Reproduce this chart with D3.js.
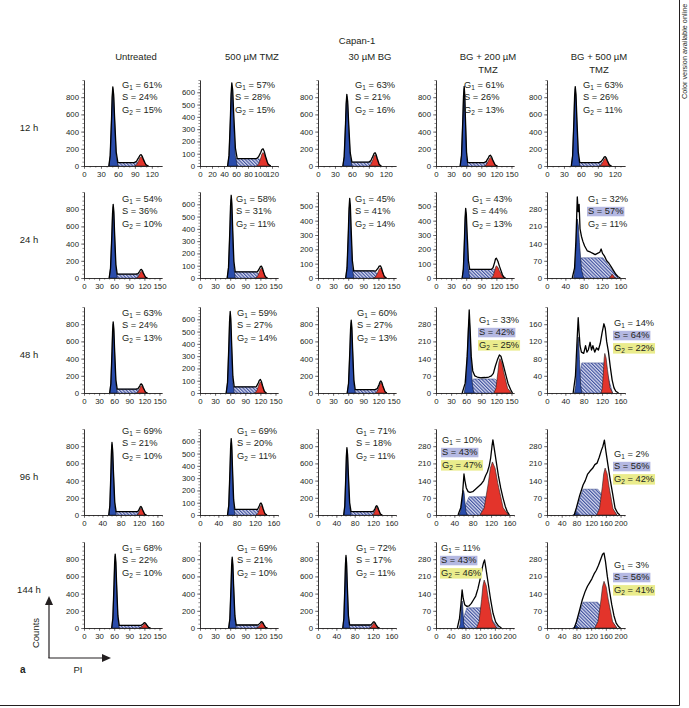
<!DOCTYPE html>
<html><head><meta charset="utf-8">
<script src="https://cdn.jsdelivr.net/npm/d3@7"></script>
<style>body{margin:0;background:#fff}svg{display:block}text{font-family:"Liberation Sans",Arial,sans-serif;fill:#231f20}</style>
</head><body><svg id="c" width="689" height="708"></svg>
<script>
// ---------------- DATA ----------------
const title = "Capan-1";
const rowLabels = ["12 h","24 h","48 h","96 h","144 h"];
const colHeaders = [["Untreated"],["500 µM TMZ"],["30 µM BG"],["BG + 200 µM","TMZ"],["BG + 500 µM","TMZ"]];
const g1Pct = [[61,57,63,61,63],[54,58,45,43,32],[63,59,60,33,14],[69,69,71,10,2],[68,69,72,11,3]];
const sPct  = [[24,28,21,26,26],[36,31,41,44,57],[24,27,27,42,64],[21,20,18,43,56],[22,21,17,43,56]];
const g2Pct = [[15,15,16,13,11],[10,11,14,13,11],[13,14,13,25,22],[10,11,11,47,42],[10,10,11,46,41]];
const highlightS  = [[0,0,0,0,0],[0,0,0,0,1],[0,0,0,1,1],[0,0,0,1,1],[0,0,0,1,1]];
const highlightG2 = [[0,0,0,0,0],[0,0,0,0,0],[0,0,0,1,1],[0,0,0,1,1],[0,0,0,1,1]];
// x axis type per panel: A 0-120 step 30, B 0-120 step 20, C 0-150 step 30, D 0-160 step 40, E 0-200 step 40
const xAxisType = [["A","B","A","C","A"],["C","C","C","C","D"],["C","C","C","C","D"],["D","D","D","D","E"],["C","C","D","E","E"]];
const xTickLabels = {A:[0,30,60,90,120], B:[0,20,40,60,80,100,120], C:[0,30,60,90,120,150], D:[0,40,80,120,160], E:[0,40,80,120,160,200]};
const xMaxByType = {A:138, B:130, C:155, D:170, E:212};
// y axis maximum tick label per panel
const yTopTick = [[800,600,800,800,800],[800,600,500,500,280],[800,600,800,280,160],[800,600,800,280,280],[800,800,800,280,280]];
const yStepByTop = {800:200, 600:100, 500:100, 280:70, 160:40};
const yMaxByTop = {800:1000, 600:700, 500:600, 280:350, 160:200};
// fitted G1 peak: [start, mode, end, height] (PI units, counts)
const g1Peaks = [
 [[44,51,60,900],[46,53,62,640],[44,51,60,810],[48,56,63,900],[43,50,58,900]],
 [[50,58,66,830],[54,62,70,640],[55,63,71,520],[52,59,67,460],[58,66,80,240]],
 [[51,58,66,800],[52,60,68,630],[58,66,74,820],[56,66,75,300],[60,68,76,130]],
 [[54,61,70,820],[60,68,76,590],[56,63,72,760],[50,60,68,100],[70,80,88,10]],
 [[55,62,70,840],[57,64,72,800],[54,61,69,820],[63,71,78,110],[70,80,88,10]]];
// fitted S phase: [x0, x1, x2, x3, height]
const sPhases = [
 [[49,53,95,108,40],[50,55,98,112,60],[49,53,95,108,45],[52,58,102,118,40],[47,52,95,110,40]],
 [[55,60,105,122,45],[58,64,110,128,50],[58,65,110,130,50],[56,63,118,135,60],[60,75,122,155,82]],
 [[55,60,105,122,45],[56,62,108,128,50],[62,68,115,134,40],[62,74,117,147,57],[64,76,124,143,70]],
 [[57,64,115,132,40],[63,70,122,140,45],[59,66,118,136,40],[56,72,118,158,74],[74,98,138,190,105]],
 [[58,64,110,128,30],[60,66,112,130,35],[57,63,112,132,35],[66,84,125,170,82],[74,98,138,190,105]]];
// fitted G2 peak: [start, mode, end, height]
const g2Peaks = [
 [[89,101,114,110],[94,105,118,110],[90,101,112,130],[96,108,122,100],[92,103,114,90]],
 [[104,114,126,80],[110,122,134,80],[110,124,136,70],[110,120,138,85],[135,142,150,15]],
 [[104,114,126,85],[108,120,132,90],[114,125,137,120],[115,127,150,140],[118,126,143,92]],
 [[115,124,136,80],[122,133,146,80],[118,128,140,90],[96,123,158,216],[135,158,190,191]],
 [[110,121,132,50],[112,123,134,60],[112,122,134,55],[110,131,165,195],[130,155,190,190]]];
const histR2C5 = [[55,0],[60,40],[63,150],[66,330],[68,270],[70,300],[72,200],[75,170],[78,150],[82,130],[88,110],[95,105],[100,100],[105,95],[110,100],[115,105],[118,118],[121,100],[125,90],[130,70],[135,60],[140,45],[145,30],[150,15],[155,5],[160,0]];
const histR3C4 = [[52,0],[58,40],[62,150],[66,338],[68,250],[70,150],[73,90],[77,70],[82,65],[90,62],[98,63],[105,65],[110,70],[114,80],[118,110],[122,135],[126,155],[129,150],[133,120],[138,80],[143,40],[148,15],[152,0]];
const histR3C5 = [[57,0],[62,40],[65,110],[68,175],[70,140],[72,110],[75,95],[80,92],[84,110],[87,95],[90,100],[94,118],[97,100],[100,110],[104,95],[108,105],[112,100],[116,115],[120,140],[124,161],[127,150],[130,120],[134,95],[138,60],[142,30],[146,12],[150,4],[156,0]];
const histR4C4 = [[48,0],[54,30],[58,90],[61,167],[63,140],[66,110],[70,95],[74,92],[80,95],[86,105],[92,115],[98,125],[104,140],[108,160],[112,175],[116,200],[119,230],[122,280],[124,306],[127,270],[131,220],[136,160],[141,110],[146,70],[151,35],[155,15],[160,0]];
const histR4C5 = [[74,0],[80,30],[88,75],[98,122],[104,140],[110,165],[117,179],[124,190],[130,205],[136,211],[142,235],[148,264],[152,280],[156,305],[160,260],[166,200],[172,142],[178,90],[185,28],[192,8],[198,0]];
const histR5C4 = [[58,0],[64,40],[68,100],[71,155],[74,120],[78,95],[84,88],[90,90],[96,100],[102,115],[108,130],[114,160],[120,200],[125,240],[129,265],[132,277],[136,240],[142,180],[148,120],[155,60],[162,25],[170,8],[178,0]];
const histR5C5 = [[74,0],[80,25],[88,70],[96,115],[104,150],[110,170],[116,185],[122,200],[128,220],[134,235],[140,255],[146,280],[151,300],[155,305],[159,270],[164,210],[170,150],[176,95],[182,50],[188,20],[195,5],[200,0]];
const measured = {"1,4":histR2C5,"2,3":histR3C4,"2,4":histR3C5,"3,3":histR4C4,"3,4":histR4C5,"4,3":histR5C4,"4,4":histR5C5};

// ---------------- LAYOUT ----------------
const colX = [84, 200, 318, 436, 547];
const rowBase = [166, 278, 393, 515, 628];
const PW = 78, PH = 86;
const annotX = [[122,235,355,464,583],[122,236,355,472,588],[122,237,357,479,614],[122,237,356,442,614],[122,237,356,441,614]];
const annotUp = [[78,78,78,78,78],[76,76,76,76,76],[77,77,77,70,67],[81,81,81,72,58],[77,77,77,77,60]];

const svg = d3.select("#c");
const defs = svg.append("defs");
const pat = defs.append("pattern").attr("id","hatch").attr("patternUnits","userSpaceOnUse")
  .attr("width",2.4).attr("height",2.4).attr("patternTransform","rotate(-45)");
pat.append("rect").attr("width",2.4).attr("height",2.4).attr("fill","#d9dcf0");
pat.append("line").attr("x1",0.6).attr("y1",0).attr("x2",0.6).attr("y2",2.4).attr("stroke","#3a4c9c").attr("stroke-width",1.1);

// frame
svg.append("line").attr("x1",679.5).attr("x2",679.5).attr("y1",0).attr("y2",705.5).attr("stroke","#231f20").attr("stroke-width",1);
svg.append("line").attr("x1",0).attr("x2",679.5).attr("y1",705.5).attr("y2",705.5).attr("stroke","#231f20").attr("stroke-width",1);
svg.append("text").attr("transform","translate(687,99) rotate(-90)").attr("font-size",7.3).text("Color version available online");

svg.append("text").attr("x",357).attr("y",44).attr("text-anchor","middle").attr("font-size",9.5).text(title);
colHeaders.forEach((lines,c)=>{
  lines.forEach((l,i)=>svg.append("text").attr("x",colX[c]+PW/2+13).attr("y",60+i*13).attr("text-anchor","middle").attr("font-size",9.5).text(l));
});
rowLabels.forEach((l,r)=>svg.append("text").attr("x",29).attr("y",rowBase[r]-35).attr("text-anchor","middle").attr("font-size",9.5).text(l));

function shape(p){ // peak template through [start, mode, end, height]
  const [s,m,e,h]=p, wl=m-s, wr=e-m;
  return [[s,0],[m-wl*2/3,h*0.135],[m-wl/3,h*0.6],[m-wl/6,h*0.88],[m,h],[m+wr/6,h*0.88],[m+wr/3,h*0.6],[m+wr*2/3,h*0.135],[e,0]];
}
function interp(pts,x){
  if(x<=pts[0][0]||x>=pts[pts.length-1][0]) return 0;
  for(let i=1;i<pts.length;i++){ if(x<=pts[i][0]){const [x0,y0]=pts[i-1],[x1,y1]=pts[i]; return x1===x0?y1:y0+(y1-y0)*(x-x0)/(x1-x0);} }
  return 0;
}

for(let r=0;r<5;r++) for(let c=0;c<5;c++){
  const t = xAxisType[r][c];
  const x = d3.scaleLinear().domain([0,xMaxByType[t]]).range([colX[c],colX[c]+PW]);
  const top = yTopTick[r][c];
  const y = d3.scaleLinear().domain([0,yMaxByTop[top]]).range([rowBase[r],rowBase[r]-PH]);
  const g = svg.append("g");
  const g1 = shape(g1Peaks[r][c]);
  const g2 = shape(g2Peaks[r][c]);
  const sp = sPhases[r][c];
  const sPts = [[sp[0],0],[sp[1],sp[4]],[sp[2],sp[4]],[sp[3],0]];
  const line = d3.line().x(d=>x(d[0])).y(d=>y(d[1]));
  g.append("path").attr("d",line(sPts)+"Z").attr("fill","url(#hatch)").attr("stroke","#2b3a80").attr("stroke-width",0.5);
  g.append("path").attr("d",line(g2)+"Z").attr("fill","#e3342b").attr("stroke","#231f20").attr("stroke-width",0.6);
  g.append("path").attr("d",line(g1)+"Z").attr("fill","#2a4cab").attr("stroke","#101830").attr("stroke-width",0.6);
  let outline = measured[r+","+c];
  if(!outline){
    const xs = Array.from(new Set([...g1,...g2,...sPts].map(d=>d[0]))).sort((a,b)=>a-b);
    outline = xs.map(v=>[v, interp(g1,v)+interp(g2,v)+interp(sPts,v)]);
  }
  g.append("path").attr("d",line(outline)).attr("fill","none").attr("stroke","#000").attr("stroke-width",1.3).attr("stroke-linejoin","round");

  // axes
  const step = yStepByTop[top];
  const yMajor = d3.range(0, top+1, step);
  const yMinor = d3.range(0, yMaxByTop[top]+0.01, step/4);
  const xMajor = xTickLabels[t];
  const xMinor = d3.range(0, xMaxByType[t]+0.01, 10);
  const ax = svg.append("g");
  ax.append("g").attr("transform",`translate(${colX[c]},0)`).call(d3.axisLeft(y).tickValues(yMinor).tickSize(1.6).tickSizeOuter(0).tickFormat(""));
  ax.append("g").attr("transform",`translate(${colX[c]},0)`).call(d3.axisLeft(y).tickValues(yMajor).tickSize(3).tickPadding(2).tickSizeOuter(0));
  ax.append("g").attr("transform",`translate(0,${rowBase[r]})`).call(d3.axisBottom(x).tickValues(xMinor).tickSize(1.6).tickSizeOuter(0).tickFormat(""));
  ax.append("g").attr("transform",`translate(0,${rowBase[r]})`).call(d3.axisBottom(x).tickValues(xMajor).tickSize(3).tickPadding(2.5).tickSizeOuter(0));
  ax.selectAll("g").attr("font-family",null).attr("font-size",null);
  ax.selectAll("path.domain").attr("stroke","#231f20").attr("stroke-width",0.7);
  ax.selectAll(".tick line").attr("stroke","#231f20").attr("stroke-width",0.5);
  ax.selectAll("text").attr("fill","#231f20").attr("font-size",7.8);

  // stats
  const ax0 = annotX[r][c], ay = rowBase[r]-annotUp[r][c];
  const stats = [["G","1",g1Pct[r][c],false,null],["S","",sPct[r][c],highlightS[r][c],"#b4b8e2"],["G","2",g2Pct[r][c],highlightG2[r][c],"#eaec8c"]];
  stats.forEach((s,i)=>{
    const hl = g.append("g");
    const tx = g.append("text").attr("x",ax0).attr("y",ay+i*12.3).attr("font-size",9.3);
    tx.append("tspan").text(s[0]);
    if(s[1]){ tx.append("tspan").attr("font-size",6.5).attr("dy",2).text(s[1]); tx.append("tspan").attr("dy",-2).text(" = "+s[2]+"%"); }
    else tx.append("tspan").text(" = "+s[2]+"%");
    if(s[3]){ const b=tx.node().getBBox(); hl.append("rect").attr("x",b.x-1).attr("y",b.y+0.5).attr("width",b.width+2).attr("height",b.height-0.5).attr("fill",s[4]); }
  });
}

// bottom-left orientation arrows
const ag = svg.append("g");
ag.append("line").attr("x1",49).attr("x2",49).attr("y1",658).attr("y2",603).attr("stroke","#231f20").attr("stroke-width",1.2);
ag.append("line").attr("x1",48.4).attr("x2",104).attr("y1",658).attr("y2",658).attr("stroke","#231f20").attr("stroke-width",1.2);
ag.append("path").attr("d","M49,596 L45,605 L53,605 Z").attr("fill","#231f20");
ag.append("path").attr("d","M111,658 L102,654 L102,662 Z").attr("fill","#231f20");
ag.append("text").attr("transform","translate(39,633) rotate(-90)").attr("text-anchor","middle").attr("font-size",9.5).text("Counts");
ag.append("text").attr("x",78).attr("y",673).attr("text-anchor","middle").attr("font-size",9.5).text("PI");
ag.append("text").attr("x",20).attr("y",673).attr("font-size",10).attr("font-weight","bold").text("a");
</script></body></html>
